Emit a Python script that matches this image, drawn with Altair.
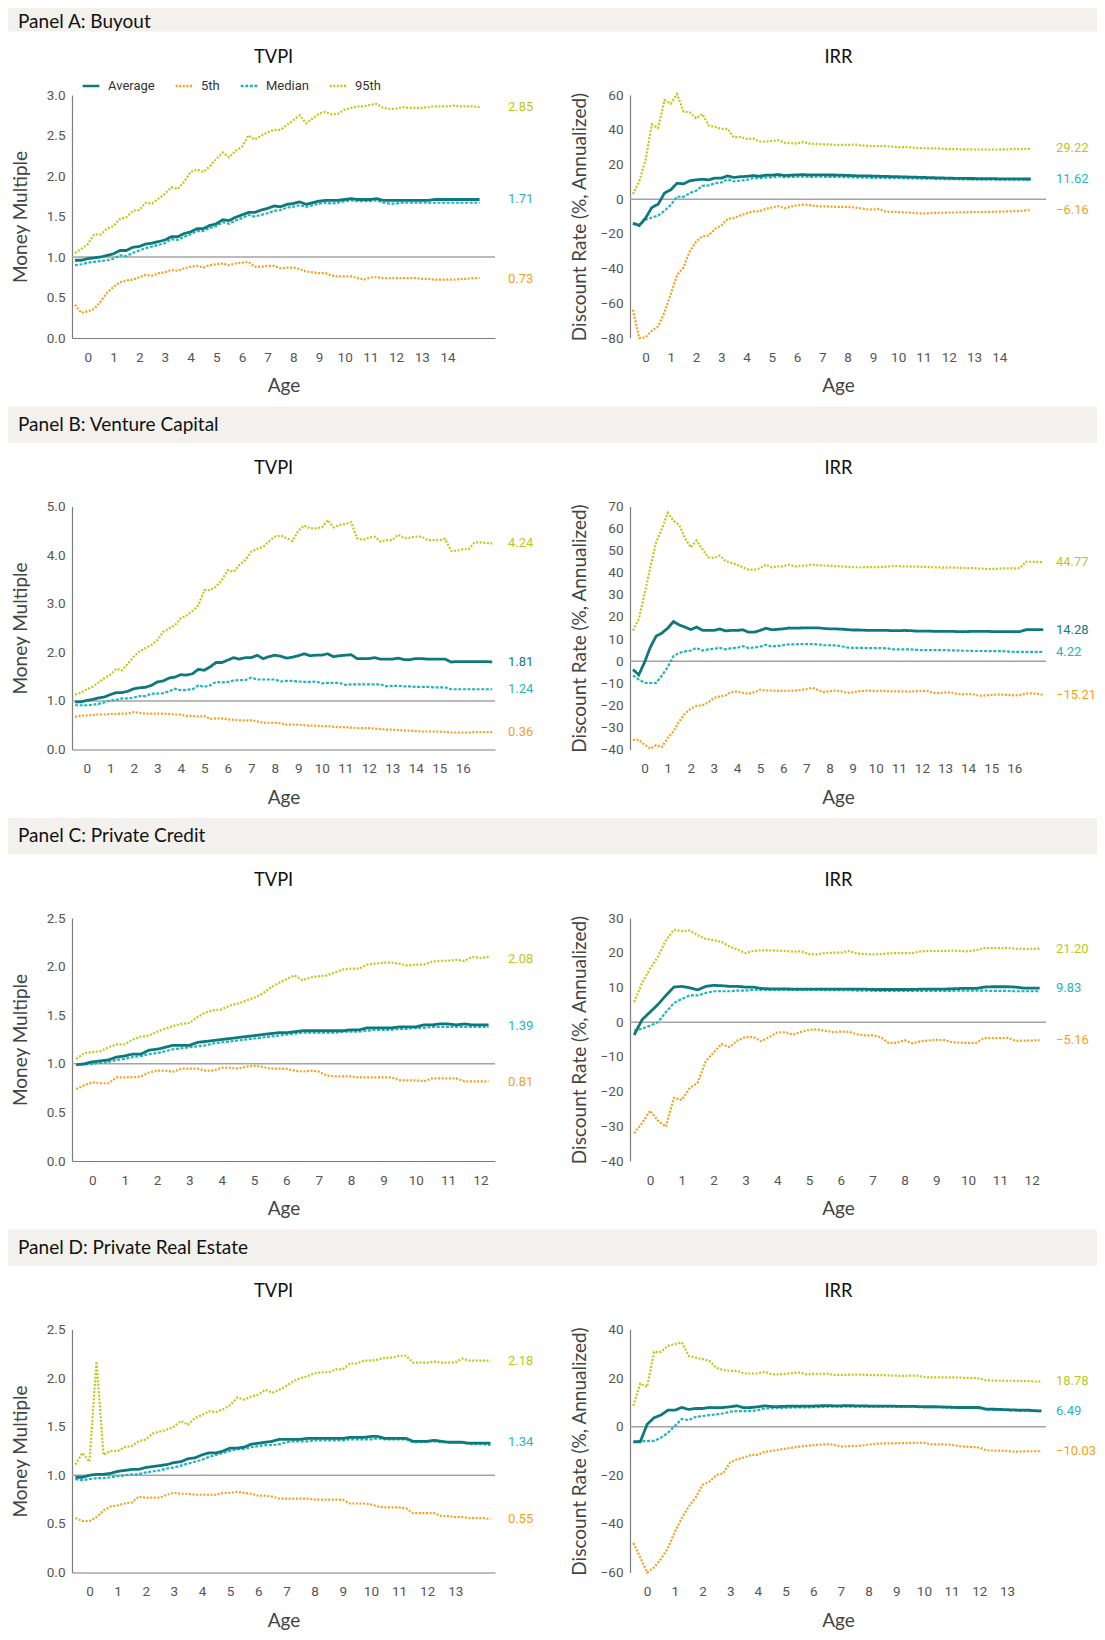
import altair as alt
import pandas as pd

# ---------------- data (quarterly) ----------------
# Panel A: Buyout (64 quarters)
BO_TVPI_AVG = [0.96,0.96,0.98,0.99,1.00,1.02,1.04,1.08,1.08,1.12,1.13,1.16,1.17,1.19,1.21,1.25,1.25,1.29,1.31,1.35,
               1.35,1.39,1.41,1.46,1.45,1.49,1.52,1.55,1.55,1.58,1.60,1.63,1.62,1.65,1.66,1.68,1.65,1.67,1.69,1.70,
               1.70,1.70,1.71,1.72,1.71,1.71,1.71,1.72,1.70,1.70,1.70,1.70,1.70,1.70,1.70,1.70,1.71,1.71,1.71,1.71,
               1.71,1.71,1.71,1.71]
BO_TVPI_P5 = [0.41,0.31,0.33,0.36,0.45,0.56,0.63,0.69,0.71,0.72,0.75,0.78,0.77,0.80,0.81,0.84,0.83,0.86,0.88,0.89,
              0.87,0.90,0.91,0.92,0.90,0.92,0.93,0.94,0.88,0.88,0.89,0.89,0.86,0.87,0.87,0.85,0.82,0.81,0.80,0.80,
              0.77,0.76,0.76,0.76,0.74,0.72,0.75,0.75,0.74,0.74,0.74,0.74,0.74,0.74,0.73,0.73,0.72,0.72,0.72,0.72,
              0.73,0.73,0.74,0.74]
BO_TVPI_MED = [0.90,0.91,0.93,0.94,0.95,0.96,0.98,1.02,1.01,1.05,1.08,1.11,1.13,1.15,1.17,1.22,1.21,1.25,1.28,1.32,
               1.32,1.36,1.38,1.43,1.41,1.45,1.48,1.52,1.50,1.52,1.54,1.57,1.58,1.61,1.62,1.64,1.62,1.64,1.66,1.67,
               1.66,1.67,1.69,1.70,1.69,1.69,1.69,1.70,1.67,1.66,1.66,1.67,1.67,1.67,1.67,1.67,1.67,1.67,1.67,1.67,
               1.67,1.67,1.67,1.67]
BO_TVPI_P95 = [1.05,1.10,1.16,1.28,1.28,1.35,1.38,1.47,1.49,1.57,1.58,1.67,1.66,1.72,1.78,1.86,1.84,1.93,2.05,2.08,
               2.05,2.12,2.21,2.29,2.23,2.31,2.36,2.50,2.45,2.50,2.54,2.57,2.57,2.63,2.69,2.75,2.65,2.71,2.77,2.79,
               2.76,2.77,2.82,2.84,2.86,2.86,2.88,2.89,2.84,2.83,2.83,2.85,2.84,2.84,2.84,2.85,2.86,2.86,2.86,2.87,
               2.86,2.86,2.86,2.85]
BO_IRR_AVG = [-13.8,-15.2,-10.9,-4.8,-2.9,3.5,5.4,9.2,8.8,10.6,11.1,11.5,11.1,12.1,12.1,13.4,12.5,12.9,13.1,13.6,
              13.2,13.8,13.8,14.2,13.6,13.8,14.0,14.1,13.9,14.0,14.0,13.9,13.9,13.8,13.7,13.5,13.4,13.4,13.3,13.2,
              13.1,13.0,12.9,12.8,12.7,12.6,12.5,12.4,12.3,12.2,12.1,12.0,12.0,11.9,11.9,11.8,11.8,11.8,11.7,11.7,
              11.7,11.7,11.6,11.6]
BO_IRR_P5 = [-63.7,-80.0,-79.7,-75.8,-73.3,-65.1,-54.7,-43.6,-39.3,-30.1,-24.4,-21.5,-20.9,-17.1,-15.2,-11.3,-10.9,-9.4,-8.1,-7.1,
             -7.1,-5.6,-4.8,-4.0,-5.2,-4.3,-3.6,-3.2,-3.5,-4.0,-4.2,-4.2,-4.4,-4.5,-4.4,-4.8,-5.3,-5.8,-6.0,-5.6,
             -7.2,-7.3,-7.4,-7.6,-7.8,-8.1,-8.3,-8.1,-7.9,-7.8,-7.7,-7.7,-7.6,-7.5,-7.4,-7.4,-7.3,-7.3,-7.2,-7.1,
             -7.0,-6.9,-6.6,-6.2]
BO_IRR_MED = [-14.4,-14.8,-11.9,-10.6,-9.4,-6.7,-3.3,1.5,1.3,3.5,4.8,7.7,7.9,9.2,9.6,11.5,10.2,10.7,11.1,12.1,
              12.1,12.5,12.5,13.2,12.6,12.8,12.9,13.0,12.8,12.9,12.9,12.8,12.8,12.7,12.6,12.5,12.4,12.4,12.3,12.2,
              12.2,12.1,12.1,12.0,12.0,11.9,11.8,11.8,11.7,11.6,11.5,11.5,11.4,11.4,11.3,11.3,11.3,11.3,11.3,11.3,
              11.2,11.2,11.2,11.2]
BO_IRR_P95 = [2.9,10.2,22.6,43.0,41.0,57.0,55.0,60.5,50.5,50.0,46.6,49.0,42.4,41.6,40.5,40.5,35.5,35.9,34.7,35.0,
              33.2,33.2,33.5,34.0,32.5,32.2,32.0,33.0,32.0,31.8,31.5,31.5,31.3,31.3,31.2,31.5,31.0,30.8,30.5,30.6,
              30.5,30.3,30.0,30.0,29.8,29.5,29.3,29.3,29.3,29.0,28.8,28.8,28.7,28.7,28.6,28.6,28.6,28.6,28.6,28.7,
              28.8,28.8,28.9,29.0]

# Panel B: Venture Capital (72 quarters)
VC_TVPI_AVG = [0.98,0.98,1.01,1.03,1.06,1.08,1.13,1.17,1.17,1.20,1.25,1.27,1.28,1.32,1.39,1.41,1.47,1.49,1.54,1.53,
               1.56,1.65,1.63,1.70,1.79,1.79,1.84,1.89,1.86,1.89,1.89,1.94,1.87,1.91,1.94,1.92,1.88,1.90,1.93,1.97,
               1.93,1.94,1.94,1.97,1.91,1.93,1.94,1.95,1.87,1.87,1.87,1.89,1.86,1.86,1.86,1.88,1.85,1.85,1.87,1.87,
               1.86,1.86,1.86,1.86,1.80,1.81,1.81,1.81,1.81,1.81,1.81,1.80]
VC_TVPI_P5 = [0.67,0.70,0.70,0.71,0.72,0.72,0.73,0.73,0.74,0.74,0.77,0.75,0.74,0.74,0.74,0.74,0.73,0.72,0.72,0.69,
              0.69,0.68,0.69,0.63,0.64,0.64,0.62,0.61,0.60,0.60,0.60,0.58,0.55,0.55,0.55,0.54,0.51,0.51,0.51,0.50,
              0.49,0.49,0.48,0.48,0.47,0.46,0.46,0.45,0.44,0.44,0.44,0.43,0.42,0.41,0.41,0.40,0.39,0.39,0.38,0.37,
              0.37,0.37,0.37,0.36,0.35,0.35,0.35,0.35,0.36,0.36,0.36,0.36]
VC_TVPI_MED = [0.91,0.91,0.91,0.92,0.94,0.97,1.01,1.02,1.05,1.05,1.07,1.10,1.10,1.15,1.15,1.16,1.20,1.25,1.22,1.23,
               1.24,1.32,1.29,1.32,1.39,1.38,1.39,1.42,1.43,1.43,1.48,1.44,1.44,1.44,1.44,1.40,1.41,1.41,1.40,1.39,
               1.39,1.40,1.36,1.37,1.37,1.37,1.33,1.34,1.34,1.34,1.34,1.34,1.34,1.30,1.31,1.31,1.30,1.30,1.29,1.29,
               1.29,1.28,1.28,1.28,1.24,1.24,1.24,1.24,1.24,1.24,1.24,1.24]
VC_TVPI_P95 = [1.13,1.17,1.24,1.29,1.38,1.47,1.54,1.66,1.63,1.77,1.91,2.02,2.09,2.15,2.25,2.42,2.49,2.56,2.70,2.76,
               2.85,2.97,3.28,3.28,3.35,3.49,3.69,3.66,3.80,3.90,4.07,4.13,4.17,4.28,4.38,4.40,4.35,4.29,4.50,4.61,
               4.55,4.55,4.57,4.72,4.57,4.62,4.64,4.68,4.35,4.31,4.36,4.38,4.28,4.31,4.31,4.42,4.35,4.36,4.38,4.38,
               4.31,4.31,4.31,4.33,4.09,4.09,4.12,4.12,4.26,4.26,4.25,4.24]
VC_IRR_AVG = [-3.8,-6.2,-0.5,6.3,11.3,12.7,14.9,17.9,16.4,15.4,14.3,15.4,14.0,13.9,13.9,14.6,13.7,13.9,13.9,14.2,
              13.1,13.1,13.9,14.9,14.2,14.4,14.6,15.0,14.9,15.0,15.1,15.1,15.1,14.8,14.6,14.6,14.5,14.3,14.1,14.1,
              14.0,13.9,13.9,13.9,13.9,13.8,13.8,13.9,13.8,13.6,13.6,13.6,13.5,13.5,13.5,13.5,13.4,13.3,13.4,13.5,
              13.5,13.5,13.4,13.4,13.4,13.4,13.3,13.4,14.2,14.3,14.3,14.3]
VC_IRR_P5 = [-35.6,-35.6,-37.8,-39.6,-38.1,-38.9,-34.8,-31.8,-27.3,-23.8,-21.5,-20.3,-20.0,-18.8,-16.7,-16.0,-15.5,-14.0,-13.7,-14.3,
             -14.8,-14.0,-12.9,-13.3,-13.3,-13.5,-13.4,-13.4,-13.3,-13.1,-12.6,-12.1,-13.0,-14.0,-13.6,-13.3,-13.6,-14.3,-14.2,-13.6,
             -13.5,-13.3,-13.6,-13.4,-13.6,-13.7,-13.7,-13.7,-13.8,-13.6,-13.5,-13.5,-14.4,-14.5,-14.2,-14.1,-14.8,-15.0,-14.8,-15.1,
             -15.7,-15.5,-15.3,-15.1,-15.2,-15.3,-15.5,-15.4,-14.6,-14.6,-14.8,-15.2]
VC_IRR_MED = [-6.5,-8.3,-9.8,-9.9,-9.9,-6.5,-2.7,2.3,3.8,4.4,4.8,6.0,4.8,5.3,5.6,6.0,5.3,5.9,6.0,6.8,
              5.9,6.2,6.6,7.4,6.6,6.9,7.2,7.6,7.6,7.7,7.7,7.7,7.6,7.2,7.2,7.1,6.8,6.2,6.0,6.0,
              6.0,5.9,5.9,5.9,5.8,5.4,5.3,5.3,5.3,5.1,5.0,5.0,5.0,5.0,5.0,4.9,4.9,4.7,4.7,4.6,
              4.6,4.6,4.5,4.5,4.5,4.3,4.2,4.2,4.2,4.2,4.2,4.2]
VC_IRR_P95 = [13.9,19.1,30.4,42.5,53.8,59.8,67.1,63.6,61.6,55.6,51.5,54.6,50.8,47.0,46.7,47.8,45.4,44.5,43.7,42.5,
              41.4,41.4,42.0,43.7,42.4,42.9,42.9,43.7,42.9,43.2,43.2,43.7,43.4,43.3,43.2,43.0,42.9,42.7,42.5,42.5,
              42.5,42.6,42.5,42.6,42.8,43.0,43.0,42.9,42.8,42.8,42.7,42.6,42.5,42.4,42.3,42.4,42.3,42.2,42.1,42.1,
              41.9,41.8,41.7,41.8,42.0,42.0,42.0,42.1,45.0,45.0,44.9,44.8]

# Panel C: Private Credit (52 quarters)
PC_TVPI_AVG = [0.99,1.00,1.02,1.03,1.04,1.07,1.08,1.10,1.10,1.14,1.15,1.17,1.19,1.19,1.19,1.22,1.23,1.24,1.25,1.26,
               1.27,1.28,1.29,1.30,1.31,1.32,1.32,1.33,1.34,1.34,1.34,1.34,1.34,1.34,1.35,1.35,1.37,1.37,1.37,1.37,
               1.38,1.38,1.38,1.40,1.40,1.41,1.41,1.40,1.41,1.40,1.40,1.40]
PC_TVPI_P5 = [0.74,0.78,0.81,0.80,0.80,0.86,0.86,0.86,0.87,0.91,0.93,0.93,0.92,0.95,0.95,0.95,0.93,0.93,0.96,0.96,
              0.95,0.97,0.98,0.97,0.95,0.95,0.95,0.93,0.92,0.93,0.92,0.88,0.87,0.87,0.87,0.86,0.86,0.86,0.86,0.86,
              0.83,0.83,0.83,0.82,0.85,0.85,0.85,0.85,0.82,0.82,0.82,0.82]
PC_TVPI_MED = [0.99,0.99,1.00,1.01,1.02,1.04,1.05,1.07,1.08,1.10,1.11,1.13,1.15,1.16,1.17,1.18,1.19,1.21,1.22,1.23,
               1.24,1.25,1.26,1.27,1.28,1.29,1.30,1.31,1.32,1.32,1.32,1.32,1.32,1.33,1.33,1.33,1.34,1.35,1.35,1.35,
               1.36,1.36,1.37,1.37,1.38,1.38,1.38,1.38,1.38,1.38,1.38,1.38]
PC_TVPI_P95 = [1.05,1.11,1.12,1.13,1.17,1.20,1.20,1.25,1.28,1.29,1.33,1.36,1.39,1.41,1.42,1.48,1.53,1.55,1.56,1.60,
               1.62,1.65,1.68,1.72,1.78,1.83,1.87,1.91,1.86,1.89,1.90,1.91,1.94,1.97,1.98,1.98,2.02,2.03,2.04,2.04,
               2.03,2.01,2.02,2.02,2.05,2.06,2.06,2.07,2.06,2.10,2.09,2.10]
PC_IRR_AVG = [-3.7,0.7,2.9,5.1,7.7,10.1,10.3,9.9,9.3,10.3,10.6,10.5,10.3,10.3,10.1,10.1,9.7,9.6,9.6,9.6,
              9.5,9.5,9.5,9.5,9.5,9.5,9.5,9.5,9.5,9.5,9.4,9.4,9.4,9.4,9.4,9.4,9.5,9.5,9.5,9.5,
              9.6,9.7,9.7,9.7,10.1,10.2,10.2,10.2,10.1,9.8,9.8,9.8]
PC_IRR_P5 = [-32.0,-29.1,-25.5,-28.4,-30.1,-21.8,-22.4,-19.0,-17.4,-11.3,-8.7,-6.3,-7.2,-5.3,-4.3,-4.3,-5.5,-4.3,-3.0,-2.9,
             -3.6,-2.8,-2.2,-2.1,-2.5,-2.9,-2.7,-2.8,-3.5,-3.8,-3.8,-4.3,-6.0,-6.0,-5.2,-6.1,-5.5,-5.3,-5.1,-5.2,
             -5.8,-5.9,-6.0,-6.0,-4.6,-4.6,-4.6,-4.5,-5.4,-5.3,-5.3,-5.2]
PC_IRR_MED = [-2.4,-1.9,-1.0,0.0,2.9,5.5,6.7,7.7,7.7,8.4,8.9,8.9,8.9,9.1,9.1,9.3,9.3,9.3,9.3,9.3,
              9.3,9.3,9.3,9.3,9.2,9.2,9.2,9.2,9.1,9.1,9.0,9.0,9.0,9.0,9.0,9.0,9.0,9.0,9.0,9.0,
              9.0,9.1,9.1,9.1,9.1,9.0,9.0,9.0,8.9,8.9,8.9,8.9]
PC_IRR_P95 = [5.8,11.3,15.4,18.9,23.6,26.6,26.2,26.4,25.0,24.0,23.6,23.1,21.8,20.9,19.9,20.5,20.7,20.7,20.6,20.5,
              20.3,20.4,19.6,19.5,19.9,20.0,20.0,20.5,19.8,19.6,19.5,19.6,19.8,19.9,19.9,19.9,20.4,20.5,20.5,20.5,
              20.6,20.5,20.4,20.7,21.3,21.3,21.3,21.4,21.1,21.1,21.1,21.2]

# Panel D: Private Real Estate (60 quarters)
RE_TVPI_AVG = [0.98,0.98,1.00,1.01,1.01,1.02,1.04,1.05,1.06,1.06,1.08,1.09,1.10,1.11,1.13,1.14,1.17,1.18,1.21,1.23,
               1.23,1.25,1.28,1.28,1.29,1.32,1.33,1.34,1.35,1.37,1.37,1.37,1.37,1.38,1.38,1.38,1.38,1.38,1.38,1.39,
               1.39,1.39,1.40,1.40,1.38,1.38,1.38,1.38,1.35,1.35,1.35,1.36,1.35,1.34,1.34,1.34,1.33,1.33,1.33,1.33]
RE_TVPI_P5 = [0.56,0.53,0.53,0.57,0.64,0.68,0.69,0.71,0.72,0.78,0.77,0.77,0.77,0.80,0.82,0.81,0.81,0.80,0.80,0.80,
              0.80,0.82,0.82,0.83,0.82,0.81,0.79,0.79,0.78,0.76,0.76,0.76,0.76,0.76,0.75,0.75,0.75,0.75,0.75,0.71,
              0.71,0.71,0.70,0.68,0.67,0.67,0.67,0.66,0.61,0.61,0.61,0.61,0.58,0.58,0.57,0.57,0.56,0.56,0.56,0.55]
RE_TVPI_MED = [0.96,0.95,0.96,0.97,0.97,0.98,0.99,1.00,1.01,1.01,1.03,1.04,1.05,1.07,1.08,1.10,1.12,1.14,1.16,1.19,
               1.21,1.23,1.25,1.27,1.27,1.29,1.30,1.31,1.31,1.32,1.34,1.35,1.35,1.35,1.36,1.36,1.36,1.36,1.36,1.37,
               1.37,1.37,1.37,1.38,1.37,1.37,1.37,1.37,1.34,1.34,1.35,1.35,1.34,1.34,1.34,1.34,1.32,1.32,1.32,1.31]
RE_TVPI_P95 = [1.11,1.23,1.14,2.17,1.21,1.25,1.25,1.29,1.30,1.35,1.37,1.43,1.45,1.47,1.50,1.56,1.52,1.59,1.62,1.66,
               1.65,1.68,1.72,1.80,1.78,1.81,1.83,1.88,1.85,1.88,1.92,1.97,2.00,2.02,2.05,2.06,2.06,2.09,2.09,2.15,
               2.15,2.18,2.18,2.19,2.21,2.21,2.23,2.23,2.16,2.16,2.16,2.17,2.16,2.16,2.16,2.20,2.18,2.18,2.18,2.18]
RE_IRR_AVG = [-6.2,-6.2,1.0,3.7,4.8,6.8,6.8,7.9,7.1,7.5,7.5,7.9,7.8,7.9,8.2,8.6,7.8,7.9,8.2,8.6,
              8.3,8.3,8.4,8.5,8.4,8.5,8.5,8.6,8.7,8.6,8.6,8.7,8.6,8.6,8.5,8.5,8.5,8.5,8.4,8.4,
              8.4,8.3,8.2,8.2,8.2,8.1,8.0,7.9,7.9,7.9,7.9,7.2,7.2,7.1,7.0,6.9,6.8,6.8,6.6,6.5]
RE_IRR_P5 = [-47.9,-53.8,-60.0,-57.9,-54.4,-50.0,-43.2,-37.7,-32.9,-29.2,-24.0,-22.6,-19.9,-19.2,-14.7,-13.4,-12.7,-11.6,-11.6,-10.3,
             -10.0,-9.5,-9.0,-8.6,-8.2,-7.9,-7.6,-7.4,-7.2,-7.4,-8.2,-8.0,-7.9,-7.8,-7.4,-7.0,-6.9,-6.9,-6.8,-6.8,
             -6.7,-6.6,-6.6,-7.3,-7.3,-7.3,-7.4,-8.0,-8.2,-8.4,-8.5,-9.8,-9.8,-9.9,-9.9,-10.3,-10.2,-10.1,-10.1,-10.0]
RE_IRR_MED = [-6.4,-5.9,-5.9,-5.8,-4.5,-2.5,0.3,3.2,2.7,4.0,4.4,4.8,5.1,5.5,6.2,6.4,6.4,6.4,6.8,7.5,
              7.6,7.7,7.8,7.9,8.0,7.9,8.0,8.1,8.2,8.2,8.2,8.3,8.3,8.3,8.2,8.2,8.2,8.2,8.2,8.2,
              8.2,8.1,8.0,8.0,8.0,7.9,7.8,7.7,7.7,7.7,7.6,7.0,7.0,6.9,6.8,6.7,6.5,6.5,6.4,6.4]
RE_IRR_P95 = [8.6,17.8,16.4,30.8,30.8,33.3,34.0,34.7,29.2,28.4,27.8,27.1,24.2,23.3,23.0,23.0,21.9,21.9,21.9,22.6,
              21.6,21.5,21.8,22.0,22.3,21.5,21.7,21.8,21.9,21.3,21.3,21.4,21.4,21.4,21.3,21.2,21.2,21.1,21.0,20.9,
              21.0,21.0,20.4,20.3,20.3,20.3,20.3,20.2,20.1,20.0,19.9,19.1,19.0,18.9,18.9,18.9,18.8,18.8,18.6,18.6]

# end-of-line value labels: (text, value, colour key)
M = "\u2212"
BO_TVPI_LABELS = [("2.85", 2.85, "g"), ("1.71", 1.71, "c"), ("0.73", 0.73, "o")]
BO_IRR_LABELS = [("29.22", 29.22, "g"), ("11.62", 11.62, "c"), (M + "6.16", -6.16, "o")]
VC_TVPI_LABELS = [("4.24", 4.24, "g"), ("1.81", 1.81, "t"), ("1.24", 1.24, "c"), ("0.36", 0.36, "o")]
VC_IRR_LABELS = [("44.77", 44.77, "g"), ("14.28", 14.28, "t"), ("4.22", 4.22, "c"), (M + "15.21", -15.21, "o")]
PC_TVPI_LABELS = [("2.08", 2.08, "g"), ("1.39", 1.39, "c"), ("0.81", 0.81, "o")]
PC_IRR_LABELS = [("21.20", 21.20, "g"), ("9.83", 9.83, "c"), (M + "5.16", -5.16, "o")]
RE_TVPI_LABELS = [("2.18", 2.18, "g"), ("1.34", 1.34, "c"), ("0.55", 0.55, "o")]
RE_IRR_LABELS = [("18.78", 18.78, "g"), ("6.49", 6.49, "c"), (M + "10.03", -10.03, "o")]

PANEL_TITLES = ["Panel A: Buyout", "Panel B: Venture Capital", "Panel C: Private Credit", "Panel D: Private Real Estate"]

# ---------------- styling / layout ----------------
SERIES = ["Average", "5th", "Median", "95th"]
COLORS = ["#0e797d", "#f5a11d", "#20b4be", "#bccb16"]
DASHES = [[1, 0], [2, 1.6], [3, 1.6], [2, 1.6]]
LINE_W = {"Average": 2.8, "5th": 2.2, "Median": 2.2, "95th": 2.2}
DRAW_ORDER = ["95th", "5th", "Median", "Average"]
LABEL_COLORS = {"g": "#b9c81c", "c": "#27b5c0", "o": "#f5a11d", "t": "#147b80"}

COND = "Roboto, 'Liberation Sans', sans-serif"
MAIN = "Lato, 'Open Sans', sans-serif"

W_TV, W_IR, H = 423, 416, 243
GAP_X = 135          # plot-to-plot horizontal gap
GAP_Y = 168.5        # plot-to-plot vertical gap
BAND_LEFT, BAND_RIGHT = -64, 1025   # header band, relative to the TVPI plot
TOP_A = 87           # distance from the page top (inside margin) to plot A
TITLE_Y = -37.3


def ages(n):
    return [-0.5 + 0.25 * i for i in range(n)]


def sub_chart(title, title_x, vals, width, ydom, yticks, yfmt, ytitle, ytitle_pad, xdom, xticks, ref,
              labels, label_gap, x_domain_line, legend, header=None):
    n = len(vals["Average"])
    a = ages(n)
    rows = []
    for s in SERIES:
        for i, v in enumerate(vals[s]):
            rows.append({"age": a[i], "value": v, "series": s})
    df = pd.DataFrame(rows)

    yscale = alt.Scale(domain=ydom, nice=False, zero=False)
    yaxis = alt.Axis(values=yticks, format=yfmt, title=ytitle, titlePadding=ytitle_pad,
                     labelPadding=7, ticks=False, tickSize=0, grid=False, domain=True)
    xscale = alt.Scale(domain=xdom, nice=False, zero=False)
    xaxis = alt.Axis(values=xticks, format="d", title="Age", domain=x_domain_line,
                     labelPadding=12, titlePadding=13, ticks=False, tickSize=0, grid=False,
                     labelFlush=False, labelOverlap=False)

    color = alt.Color("series:N", scale=alt.Scale(domain=SERIES, range=COLORS), legend=legend)
    dash = alt.StrokeDash("series:N", scale=alt.Scale(domain=SERIES, range=DASHES), legend=legend)

    layers = []
    if header is not None:
        text, top, ty = header
        d = pd.DataFrame({"label": [text]})
        layers.append(alt.Chart(d).mark_rect(color="#f2f1ed").encode(
            x=alt.value(BAND_LEFT), x2=alt.value(BAND_RIGHT), y=alt.value(top), y2=alt.value(-63.4)))
        layers.append(alt.Chart(d).mark_text(align="left", baseline="middle", font=MAIN, fontSize=19,
                                             color="#111111").encode(
            x=alt.value(BAND_LEFT + 10), y=alt.value(ty), text="label:N"))

    tdf = pd.DataFrame({"title": [title]})
    layers.append(alt.Chart(tdf).mark_text(align="center", baseline="middle", font=MAIN, fontSize=18.3,
                                           color="#111111").encode(
        x=alt.value(title_x), y=alt.value(TITLE_Y), text="title:N"))

    layers.append(alt.Chart(pd.DataFrame({"ref": [ref]})).mark_rule(
        color="#a3a3a3", strokeWidth=1.5).encode(y=alt.Y("ref:Q", scale=yscale, axis=yaxis)))

    for s in DRAW_ORDER:
        layers.append(
            alt.Chart(df).transform_filter(alt.datum.series == s)
            .mark_line(strokeWidth=LINE_W[s])
            .encode(x=alt.X("age:Q", scale=xscale, axis=xaxis),
                    y=alt.Y("value:Q", scale=yscale, axis=yaxis),
                    color=color, strokeDash=dash)
        )

    ldf = pd.DataFrame({"txt": [l[0] for l in labels],
                        "pos": [l[1] for l in labels],
                        "col": [LABEL_COLORS[l[2]] for l in labels]})
    layers.append(alt.Chart(ldf).mark_text(align="left", baseline="middle", font=COND, fontSize=13).encode(
        x=alt.value(width + label_gap),
        y=alt.Y("pos:Q", scale=yscale, axis=yaxis),
        text="txt:N",
        fill=alt.Fill("col:N", scale=None),
    ))

    return alt.layer(*layers).properties(width=width, height=H)


LEGEND = alt.Legend(orient="none", legendX=9, legendY=-19, direction="horizontal", title=None,
                    symbolType="stroke", symbolSize=280, symbolStrokeWidth=2.5,
                    labelFont=COND, labelFontSize=13, labelColor="#333333",
                    columnPadding=15, labelOffset=7, padding=0)

panels = [
    dict(tv={"Average": BO_TVPI_AVG, "5th": BO_TVPI_P5, "Median": BO_TVPI_MED, "95th": BO_TVPI_P95},
         ir={"Average": BO_IRR_AVG, "5th": BO_IRR_P5, "Median": BO_IRR_MED, "95th": BO_IRR_P95},
         xdom=[-0.615, 15.85], xticks=list(range(0, 15)),
         tvdom=[0, 3], tvticks=[0, 0.5, 1, 1.5, 2, 2.5, 3],
         irdom=[-80, 60], irticks=list(range(-80, 61, 20)),
         tvl=BO_TVPI_LABELS, irl=BO_IRR_LABELS),
    dict(tv={"Average": VC_TVPI_AVG, "5th": VC_TVPI_P5, "Median": VC_TVPI_MED, "95th": VC_TVPI_P95},
         ir={"Average": VC_IRR_AVG, "5th": VC_IRR_P5, "Median": VC_IRR_MED, "95th": VC_IRR_P95},
         xdom=[-0.63, 17.37], xticks=list(range(0, 17)),
         tvdom=[0, 5], tvticks=[0, 1, 2, 3, 4, 5],
         irdom=[-40, 70], irticks=list(range(-40, 71, 10)),
         tvl=VC_TVPI_LABELS, irl=VC_IRR_LABELS),
    dict(tv={"Average": PC_TVPI_AVG, "5th": PC_TVPI_P5, "Median": PC_TVPI_MED, "95th": PC_TVPI_P95},
         ir={"Average": PC_IRR_AVG, "5th": PC_IRR_P5, "Median": PC_IRR_MED, "95th": PC_IRR_P95},
         xdom=[-0.63, 12.45], xticks=list(range(0, 13)),
         tvdom=[0, 2.5], tvticks=[0, 0.5, 1, 1.5, 2, 2.5],
         irdom=[-40, 30], irticks=list(range(-40, 31, 10)),
         tvl=PC_TVPI_LABELS, irl=PC_IRR_LABELS),
    dict(tv={"Average": RE_TVPI_AVG, "5th": RE_TVPI_P5, "Median": RE_TVPI_MED, "95th": RE_TVPI_P95},
         ir={"Average": RE_IRR_AVG, "5th": RE_IRR_P5, "Median": RE_IRR_MED, "95th": RE_IRR_P95},
         xdom=[-0.62, 14.41], xticks=list(range(0, 14)),
         tvdom=[0, 2.5], tvticks=[0, 0.5, 1, 1.5, 2, 2.5],
         irdom=[-60, 40], irticks=list(range(-60, 41, 20)),
         tvl=RE_TVPI_LABELS, irl=RE_IRR_LABELS),
]

rows = []
for k, p in enumerate(panels):
    if k == 0:
        hdr = (PANEL_TITLES[k], -TOP_A, -73.5)
    else:
        hdr = (PANEL_TITLES[k], -100, -81.7)
    tv = sub_chart("TVPI", 201.6, p["tv"], W_TV, p["tvdom"], p["tvticks"], ".1f", "Money Multiple", 16,
                   p["xdom"], p["xticks"], 1.0, p["tvl"], 13, True,
                   LEGEND if k == 0 else None, header=hdr)
    ir = sub_chart("IRR", 208.5, p["ir"], W_IR, p["irdom"], p["irticks"], "d", "Discount Rate (%, Annualized)", 10.5,
                   p["xdom"], p["xticks"], 0.0, p["irl"], 10, False, None)
    rows.append(alt.hconcat(tv, ir, spacing=GAP_X, bounds="flush")
                .resolve_scale(color="independent", strokeDash="independent"))

# nested rows count as zero height in a flush layout, so the step includes the plot height
chart = (
    alt.vconcat(*rows, spacing=H + GAP_Y, bounds="flush")
    .resolve_scale(color="independent", strokeDash="independent")
    .properties(padding={"left": 0, "top": 0, "right": 0, "bottom": 0})
    .configure_view(stroke=None)
    .configure_axis(labelFont=COND, labelFontSize=13.5, labelColor="#555555",
                    titleFont=MAIN, titleFontSize=19, titleFontWeight="normal", titleColor="#444444",
                    domainColor="#7d7d7d", domainWidth=1.2)
)

chart.save("out.html", embed_options={"renderer": "svg", "actions": False})
